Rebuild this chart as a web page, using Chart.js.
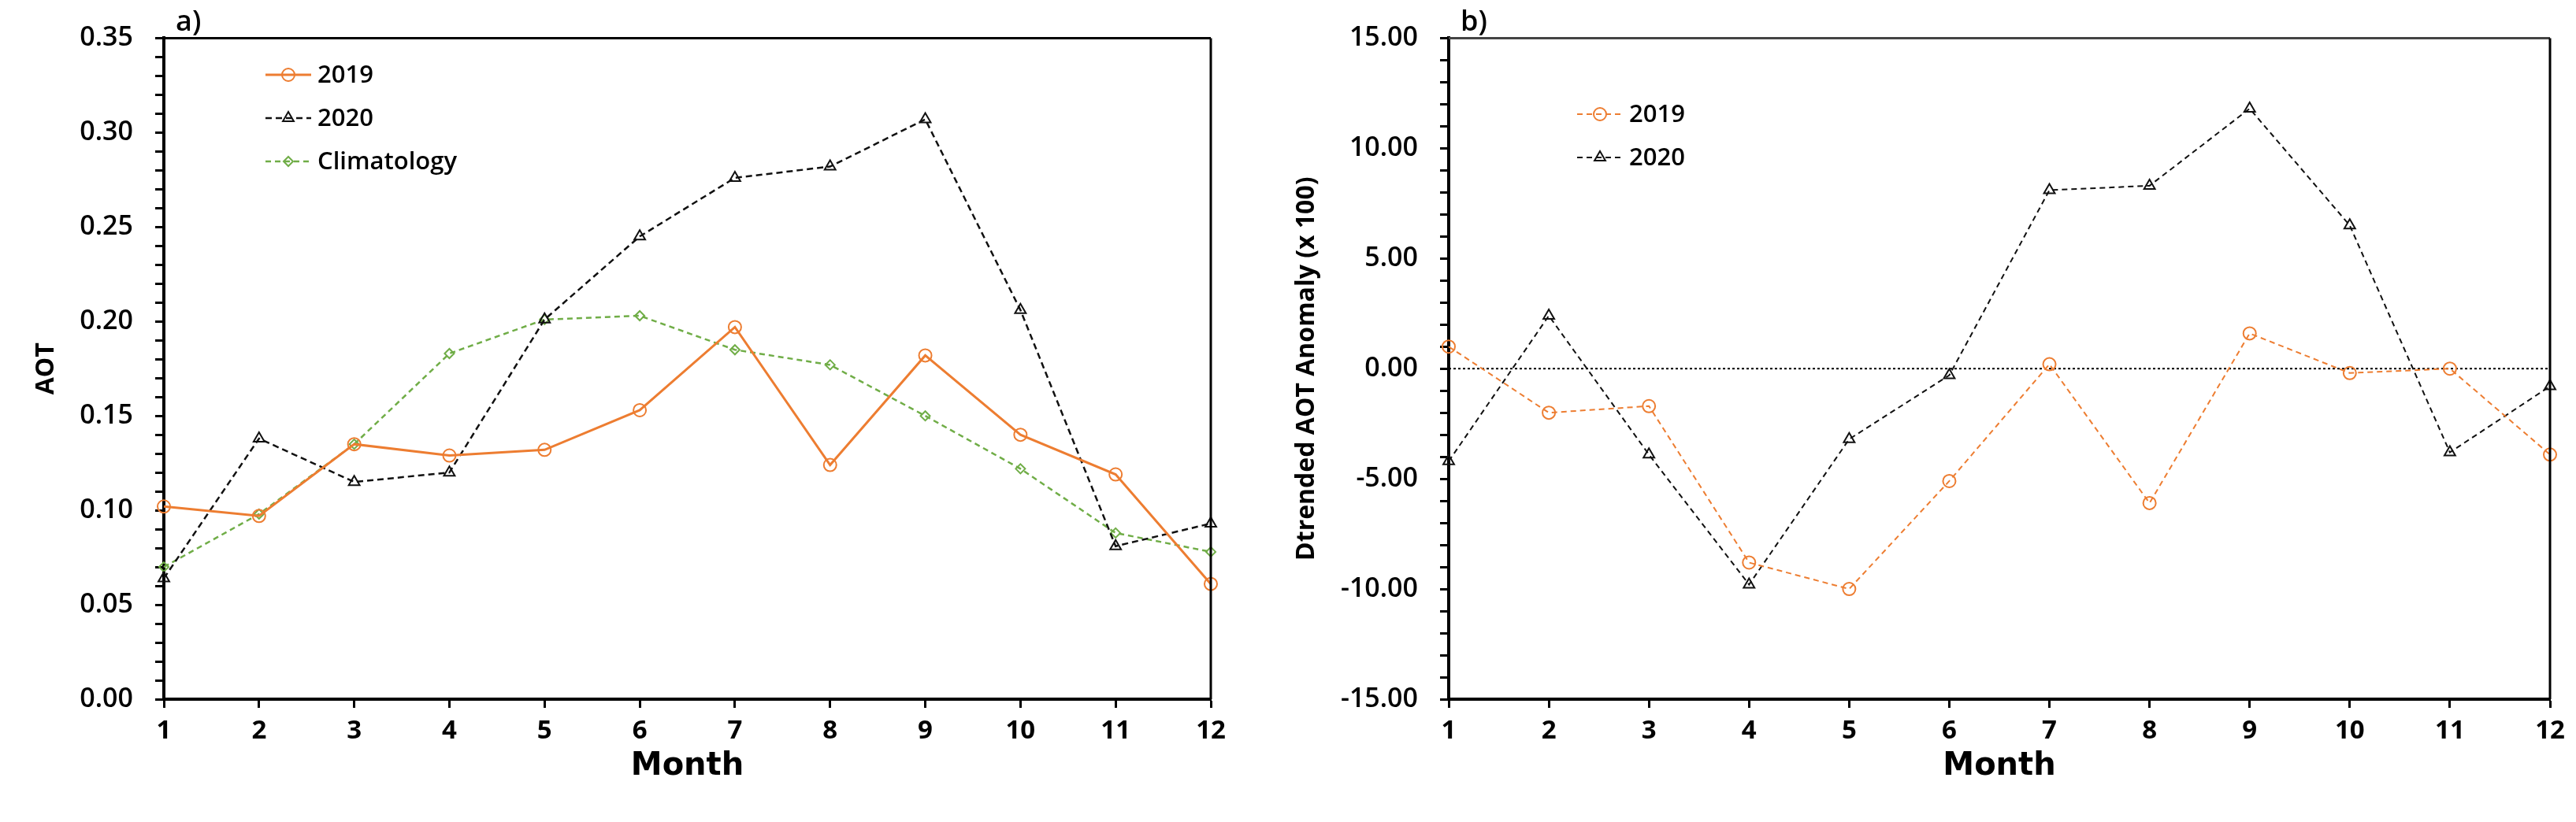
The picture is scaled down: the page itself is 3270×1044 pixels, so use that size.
<!DOCTYPE html>
<html>
<head>
<meta charset="utf-8">
<script src="https://cdn.jsdelivr.net/npm/chart.js@4/dist/chart.umd.min.js"></script>
<style>
  html, body { margin: 0; padding: 0; background: #fff; }
  body { width: 3270px; height: 1044px; position: relative; overflow: hidden; }
  #chartA { position: absolute; left: 0; top: 0; }
  #chartB { position: absolute; left: 1600px; top: 0; }
</style>
</head>
<body>
<canvas id="chartA" width="1600" height="1044"></canvas>
<canvas id="chartB" width="1670" height="1044"></canvas>
<script>
// months on the x axis
const months = ['1', '2', '3', '4', '5', '6', '7', '8', '9', '10', '11', '12'];

// panel a) monthly AOT
const aot2019 = [0.102, 0.097, 0.135, 0.129, 0.132, 0.153, 0.197, 0.124, 0.182, 0.140, 0.119, 0.061];
const aot2020 = [0.064, 0.138, 0.115, 0.120, 0.201, 0.245, 0.276, 0.282, 0.307, 0.206, 0.081, 0.093];
const aotClimatology = [0.070, 0.098, 0.135, 0.183, 0.201, 0.203, 0.185, 0.177, 0.150, 0.122, 0.088, 0.078];

// panel b) detrended AOT anomaly (x 100)
const anomaly2019 = [1.0, -2.0, -1.7, -8.8, -10.0, -5.1, 0.2, -6.1, 1.6, -0.2, 0.0, -3.9];
const anomaly2020 = [-4.2, 2.4, -3.9, -9.8, -3.2, -0.3, 8.1, 8.3, 11.8, 6.5, -3.8, -0.8];

const ORANGE = '#ED7D31';
const BLACK = '#111111';
const GREEN = '#70AD47';

Chart.defaults.font.family = "'Open Sans', sans-serif";
Chart.defaults.color = '#000';

// box round the plot area, panel letter, legend inside the plot, zero line
const framePlugin = {
    id: 'frame',
    beforeDatasetsDraw(chart, args, opts) {
        const ctx = chart.ctx;
        const area = chart.chartArea;
        if (opts.zeroLine) {
            const y = chart.scales.y.getPixelForValue(0);
            ctx.save();
            ctx.strokeStyle = '#000';
            ctx.lineWidth = 2;
            ctx.setLineDash([3, 3]);
            ctx.beginPath();
            ctx.moveTo(area.left, y);
            ctx.lineTo(area.right, y);
            ctx.stroke();
            ctx.restore();
        }
    },
    afterDraw(chart, args, opts) {
        const ctx = chart.ctx;
        const area = chart.chartArea;
        ctx.save();
        ctx.strokeStyle = opts.topColor || '#000';
        ctx.lineWidth = 3;
        ctx.beginPath();
        ctx.moveTo(area.left, area.top);
        ctx.lineTo(area.right, area.top);
        ctx.stroke();
        ctx.strokeStyle = '#000';
        ctx.beginPath();
        ctx.moveTo(area.right, area.top);
        ctx.lineTo(area.right, area.bottom);
        ctx.stroke();

        ctx.fillStyle = '#000';
        ctx.font = "600 36px 'Open Sans'";
        ctx.textBaseline = 'alphabetic';
        ctx.fillText(opts.letter, area.left + 15, area.top - 9);

        // legend
        ctx.font = "600 31px 'Open Sans'";
        ctx.textBaseline = 'middle';
        chart.data.datasets.forEach((ds, i) => {
            const y = opts.legendY + i * opts.rowGap;
            const x = opts.legendX;
            ctx.strokeStyle = ds.borderColor;
            ctx.lineWidth = ds.borderWidth;
            ctx.setLineDash(ds.borderDash || []);
            ctx.beginPath();
            ctx.moveTo(x, y);
            ctx.lineTo(x + 58, y);
            ctx.stroke();
            ctx.setLineDash([]);
            ctx.fillStyle = 'rgba(0,0,0,0)';
            ctx.strokeStyle = ds.pointBorderColor;
            ctx.lineWidth = ds.pointBorderWidth;
            Chart.helpers.drawPoint(ctx, {
                pointStyle: ds.pointStyle,
                radius: ds.pointRadius,
                borderWidth: ds.pointBorderWidth,
                rotation: 0
            }, x + 29, y);
            ctx.fillStyle = '#000';
            ctx.fillText(ds.label, x + 66, y + 1);
        });
        ctx.restore();
    }
};

function series(label, data, color, dash, style, radius, width) {
    return {
        label: label,
        data: data,
        borderColor: color,
        borderWidth: width,
        borderDash: dash,
        pointStyle: style,
        pointRadius: radius,
        pointBorderColor: color,
        pointBackgroundColor: 'rgba(0,0,0,0)',
        pointBorderWidth: 2,
        tension: 0,
        fill: false,
        clip: false
    };
}

function xAxis(height) {
    return {
        type: 'category',
        offset: false,
        afterFit: scale => { scale.height = height; },
        border: {color: '#000', width: 4},
        grid: {display: true, drawOnChartArea: false, tickLength: 11, tickColor: '#000', tickWidth: 3, offset: false},
        ticks: {font: {size: 33, weight: 'bold'}, padding: 10, maxRotation: 0, autoSkip: false},
        title: {
            display: true,
            text: 'Month',
            font: {family: "'DejaVu Sans'", size: 40, weight: 'bold'},
            padding: {top: 0, bottom: 46}
        }
    };
}

function yAxis(width, min, max, step, every, title, titlePad) {
    return {
        min: min,
        max: max,
        afterFit: scale => { scale.width = width; },
        border: {color: '#000', width: 4},
        grid: {display: true, drawOnChartArea: false, tickLength: 11, tickColor: '#000', tickWidth: 3},
        ticks: {
            stepSize: step,
            autoSkip: false,
            padding: 28,
            font: {size: 34, weight: '600'},
            callback: v => Math.round(v / step) % every === 0 ? Number(v).toFixed(2) : ''
        },
        title: {
            display: true,
            text: title,
            font: {size: 32, weight: 'bold'},
            padding: {top: titlePad, bottom: 0}
        }
    };
}

new Chart(document.getElementById('chartA'), {
    type: 'line',
    data: {
        labels: months,
        datasets: [
            series('2019', aot2019, ORANGE, [], 'circle', 8, 3),
            series('2020', aot2020, BLACK, [8, 5], 'triangle', 8, 2.5),
            series('Climatology', aotClimatology, GREEN, [7, 5], 'rectRot', 6, 2.5)
        ]
    },
    options: {
        responsive: false,
        devicePixelRatio: 1,
        animation: false,
        layout: {padding: {top: 46, right: 63, left: 0, bottom: 0}},
        plugins: {
            legend: {display: false},
            tooltip: {enabled: false},
            frame: {letter: 'a)', legendX: 337, legendY: 95, rowGap: 55}
        },
        scales: {
            x: xAxis(156),
            y: yAxis(208, 0, 0.35, 0.01, 5, 'AOT', 40)
        }
    },
    plugins: [framePlugin]
});

new Chart(document.getElementById('chartB'), {
    type: 'line',
    data: {
        labels: months,
        datasets: [
            series('2019', anomaly2019, ORANGE, [7, 5], 'circle', 8, 2),
            series('2020', anomaly2020, BLACK, [7, 5], 'triangle', 8, 2)
        ]
    },
    options: {
        responsive: false,
        devicePixelRatio: 1,
        animation: false,
        layout: {padding: {top: 46, right: 33, left: 0, bottom: 0}},
        plugins: {
            legend: {display: false},
            tooltip: {enabled: false},
            frame: {letter: 'b)', legendX: 402, legendY: 145, rowGap: 55, zeroLine: true, topColor: '#444'}
        },
        scales: {
            x: xAxis(156),
            y: yAxis(239, -15, 15, 1, 5, 'Dtrended AOT Anomaly (x 100)', 40)
        }
    },
    plugins: [framePlugin]
});
</script>
</body>
</html>
